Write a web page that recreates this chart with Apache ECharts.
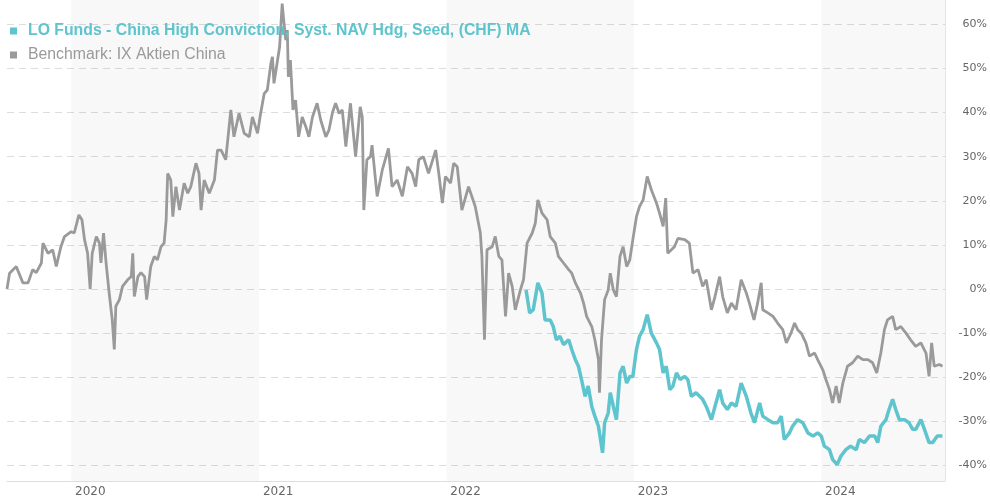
<!DOCTYPE html>
<html>
<head>
<meta charset="utf-8">
<script src="https://cdn.jsdelivr.net/npm/echarts@6/dist/echarts.min.js"></script>
<style>html,body{margin:0;padding:0;background:#fff}#c{width:990px;height:500px}</style>
</head>
<body>
<div id="c"></div>
<script>
const fundName = 'LO Funds - China High Conviction, Syst. NAV Hdg, Seed, (CHF) MA';
const benchName = 'Benchmark: IX Aktien China';
const shadedYears = [['2020-01-01','2021-01-01'],['2022-01-01','2023-01-01'],['2024-01-01','2024-08-29']];

const benchDates = ['2019-08-29','2019-09-03','2019-09-16','2019-09-29','2019-10-09','2019-10-18','2019-10-25','2019-11-04','2019-11-07','2019-11-17','2019-11-26','2019-12-03','2019-12-12','2019-12-19',
'2020-01-01','2020-01-07','2020-01-16','2020-01-22','2020-01-27','2020-02-02','2020-02-07','2020-02-11','2020-02-19','2020-02-25','2020-02-28','2020-03-04','2020-03-09','2020-03-15','2020-03-21','2020-03-25','2020-03-28','2020-04-04','2020-04-10','2020-04-20','2020-04-27','2020-04-30','2020-05-03','2020-05-10','2020-05-16','2020-05-23','2020-05-27','2020-06-04','2020-06-11','2020-06-17','2020-06-24','2020-06-30','2020-07-04','2020-07-07','2020-07-13','2020-07-17','2020-07-23','2020-07-30','2020-08-08','2020-08-15','2020-08-21','2020-08-31','2020-09-06','2020-09-10','2020-09-16','2020-09-26','2020-10-06','2020-10-12','2020-10-19','2020-10-28','2020-11-07','2020-11-13','2020-11-23','2020-12-03','2020-12-13','2020-12-19','2020-12-29',
'2021-01-04','2021-01-11','2021-01-17','2021-01-24','2021-01-27','2021-01-30','2021-02-06','2021-02-10','2021-02-15','2021-02-18','2021-02-22','2021-02-25','2021-02-27','2021-03-03','2021-03-08','2021-03-13','2021-03-19','2021-03-26','2021-04-02','2021-04-08','2021-04-15','2021-04-24','2021-05-01','2021-05-11','2021-05-17','2021-05-24','2021-05-30','2021-06-06','2021-06-12','2021-06-19','2021-06-28','2021-07-08','2021-07-17','2021-07-21','2021-07-24','2021-07-30','2021-08-06','2021-08-09','2021-08-19','2021-08-29','2021-09-10','2021-09-17','2021-09-27','2021-10-07','2021-10-17','2021-10-26','2021-11-02','2021-11-08','2021-11-17','2021-11-27','2021-12-11','2021-12-17','2021-12-24','2021-12-30',
'2022-01-09','2022-01-15','2022-01-22','2022-01-31','2022-02-13','2022-02-26','2022-03-08','2022-03-11','2022-03-16','2022-03-21','2022-03-31','2022-04-06','2022-04-13','2022-04-19','2022-04-26','2022-05-02','2022-05-09','2022-05-15','2022-05-25','2022-05-31','2022-06-07','2022-06-17','2022-06-23','2022-06-28','2022-07-06','2022-07-16','2022-07-22','2022-08-01','2022-08-07','2022-08-17','2022-08-27','2022-09-02','2022-09-09','2022-09-19','2022-09-25','2022-10-01','2022-10-11','2022-10-17','2022-10-24','2022-10-26','2022-10-30','2022-11-05','2022-11-12','2022-11-16','2022-11-22','2022-11-28','2022-12-05','2022-12-11','2022-12-18','2022-12-24','2022-12-30',
'2023-01-06','2023-01-12','2023-01-19','2023-01-27','2023-02-04','2023-02-14','2023-02-20','2023-02-27','2023-03-04','2023-03-08','2023-03-15','2023-03-21','2023-03-28','2023-04-10','2023-04-19','2023-04-26','2023-05-06','2023-05-15','2023-05-22','2023-06-01','2023-06-08','2023-06-17','2023-06-23','2023-07-02','2023-07-10','2023-07-19','2023-07-29','2023-08-08','2023-08-14','2023-08-23','2023-08-30','2023-09-06','2023-09-09','2023-09-19','2023-09-29','2023-10-08','2023-10-18','2023-10-25','2023-11-03','2023-11-10','2023-11-16','2023-11-23','2023-12-02','2023-12-09','2023-12-19','2023-12-25',
'2024-01-04','2024-01-10','2024-01-17','2024-01-23','2024-01-30','2024-02-05','2024-02-12','2024-02-21','2024-03-02','2024-03-12','2024-03-22','2024-04-01','2024-04-10','2024-04-18','2024-04-26','2024-05-03','2024-05-09','2024-05-19','2024-05-25','2024-06-04','2024-06-14','2024-06-23','2024-07-03','2024-07-13','2024-07-23','2024-07-29','2024-08-03','2024-08-08','2024-08-18','2024-08-24'];

const benchValues = [0,3.6,5.1,1.4,1.4,4.4,3.7,5.9,10.4,8.1,8.9,5.1,9.6,11.9,
13,12.7,16.8,15.7,11.2,8.1,0,8.1,11.9,10.4,5.9,12.7,5.9,-0.9,-7,-13.7,-3.9,-2.4,0.6,2.1,2.8,8.1,-1.7,2.8,3.7,2.8,-2.4,5.1,7.4,6.6,9.6,10.4,15.7,26.2,24.7,16.4,23.2,17.9,24,21.7,23.2,28.5,26.2,17.9,24.7,21.7,24.7,31.5,31.5,29.3,40.6,34.5,39.8,35.3,34.5,39,35.3,
39.8,44.3,45.1,51.1,52.6,46.6,51.9,54.9,64.7,60.9,56.4,58.7,48.1,51.9,40.6,42.8,34.5,39,36.8,34.5,39,42.1,38.3,34.5,36,40,42.1,39.8,40.6,32.3,42.1,30,41.3,39,17.9,29.3,30,32.6,21,27,31.9,23.2,24.7,21,27.7,26.2,23.2,29.3,30,26.2,31.5,26.2,19.5,25.5,
24,28.5,27.7,17.9,23.2,18.7,12.7,7.4,-11.5,8.9,9.6,11.9,7.4,6.6,-6.2,3.6,0.6,-4.7,-0.2,2.1,10.4,12.7,14.9,20.2,17.2,15.7,11.9,10.4,7.4,5.9,4.4,3.6,1.4,-0.9,-3.2,-6.2,-8.5,-11.5,-16,-23.5,-11.5,-2.4,-0.2,3.6,-0.2,-1.7,7.4,9.6,5.1,6.6,11.2,
16.4,18.7,20.2,25.5,22.5,19.5,17.2,14.2,20.6,8.1,8.9,9.6,11.5,11.2,10.4,3.6,4.4,0.6,2.1,-4.7,-1.7,2.8,-1.7,-5.4,-3.2,-4.7,2.1,-0.9,-3.2,-7,-3.2,1.4,-4.7,-5.4,-6.2,-7.7,-9.2,-12.2,-10,-7.7,-9.2,-10,-12.2,-15.2,-14.5,-16,
-18.3,-20.5,-22.8,-25.8,-22,-25.8,-21.3,-17.5,-16.7,-15.2,-16,-16,-16.7,-19,-14.5,-9.2,-7,-6.2,-9.2,-8.5,-10,-11.5,-13,-12.2,-14.5,-19.8,-12.2,-17.5,-17.1,-17.5];

const fundDates = ['2022-06-05','2022-06-12','2022-06-19','2022-06-28','2022-07-06','2022-07-12','2022-07-22','2022-07-28','2022-08-03','2022-08-10','2022-08-17','2022-08-27','2022-09-02','2022-09-09','2022-09-15','2022-09-21','2022-09-28','2022-10-04','2022-10-11','2022-10-17','2022-10-24','2022-10-28','2022-11-01','2022-11-05','2022-11-12','2022-11-16','2022-11-22','2022-11-28','2022-12-05','2022-12-11','2022-12-18','2022-12-24','2022-12-30',
'2023-01-06','2023-01-12','2023-01-19','2023-01-27','2023-02-04','2023-02-14','2023-02-20','2023-02-27','2023-03-05','2023-03-12','2023-03-18','2023-03-25','2023-04-01','2023-04-10','2023-04-16','2023-04-23','2023-05-02','2023-05-15','2023-05-22','2023-06-01','2023-06-08','2023-06-17','2023-06-23','2023-07-02','2023-07-10','2023-07-19','2023-07-29','2023-08-08','2023-08-17','2023-08-24','2023-09-03','2023-09-09','2023-09-19','2023-09-29','2023-10-08','2023-10-15','2023-10-21','2023-10-31','2023-11-06','2023-11-16','2023-11-26','2023-12-06','2023-12-16','2023-12-25',
'2024-01-01','2024-01-07','2024-01-17','2024-01-23','2024-02-01','2024-02-08','2024-02-18','2024-02-27','2024-03-09','2024-03-15','2024-03-25','2024-04-04','2024-04-14','2024-04-20','2024-04-26','2024-05-06','2024-05-12','2024-05-19','2024-05-25','2024-06-01','2024-06-11','2024-06-20','2024-06-27','2024-07-03','2024-07-13','2024-07-20','2024-07-29','2024-08-05','2024-08-14','2024-08-24'];

const fundValues = [-0.2,-5.4,-4.7,1.4,-0.9,-7,-7,-8.5,-11.5,-10.7,-12.6,-11.5,-13.7,-16,-17.5,-20.5,-24.3,-22,-26.6,-28.8,-31.1,-34.1,-37.1,-30.3,-28.1,-23.5,-26.6,-29.6,-19,-17.5,-21.3,-19.8,-19.8,
-13.7,-10.7,-9.2,-5.8,-10,-12.2,-13.7,-19,-17.5,-22.8,-22,-19,-20.5,-19.8,-20.5,-24.3,-23.5,-25,-26.6,-29.6,-26.6,-22.8,-25.8,-27.3,-25.8,-26.6,-21.3,-24.3,-28.1,-30.3,-25.8,-28.8,-29.6,-30.3,-30.3,-28.8,-34.1,-32.6,-31.1,-29.6,-30.3,-32.6,-33.3,-32.6,
-33.3,-35.6,-36.4,-38.6,-39.8,-37.9,-36.4,-35.6,-36.4,-34.1,-34.8,-33.3,-33.3,-34.8,-31.1,-29.6,-27.3,-25,-27.3,-29.6,-29.6,-30.3,-31.8,-31.8,-29.6,-31.8,-34.8,-34.8,-33.3,-33.3];

const fundColor = '#5ec4cd';
const benchColor = '#9a9a9a';

const chart = echarts.init(document.getElementById('c'), null, {renderer: 'canvas'});
const zip = (d, v) => d.map((x, i) => [x, v[i]]);

chart.setOption({
  animation: false,
  backgroundColor: '#fff',
  grid: {left: 7, right: 43, top: 0, bottom: 19, containLabel: false},
  legend: {
    orient: 'vertical', left: 10, top: 23, padding: 0, itemGap: 8,
    icon: 'rect', itemWidth: 7, itemHeight: 7,
    textStyle: {fontFamily: 'Liberation Sans, Arial, sans-serif', fontSize: 15.8, lineHeight: 16, padding: [0, 0, 0, 6]},
    selectedMode: false,
    data: [
      {name: fundName, textStyle: {color: fundColor, fontWeight: 'bold'}},
      {name: benchName, textStyle: {color: benchColor}}
    ]
  },
  xAxis: {
    type: 'time',
    min: '2019-08-29', max: '2024-08-29',
    minInterval: 365 * 24 * 3600 * 1000, maxInterval: 366 * 24 * 3600 * 1000,
    axisLine: {show: true, onZero: false, lineStyle: {color: '#dedede'}},
    axisTick: {show: false},
    splitLine: {show: false},
    axisLabel: {
      color: '#666', fontFamily: 'DejaVu Sans, Verdana, sans-serif', fontSize: 12, align: 'left', margin: 5,
      showMinLabel: false, showMaxLabel: false,
      formatter: function (v) { const d = new Date(v); return (d.getMonth() === 0 && d.getDate() === 1) ? ' ' + d.getFullYear() : ''; }
    }
  },
  yAxis: {
    type: 'value', position: 'right',
    min: -43.5, max: 65.5, splitNumber: 11,
    axisLine: {show: true, lineStyle: {color: '#e6e6e6'}},
    axisTick: {show: false},
    splitLine: {show: true, showMinLine: false, showMaxLine: false, lineStyle: {color: '#dddddd', type: [7, 5], width: 1}},
    axisLabel: {
      color: '#666', fontFamily: 'DejaVu Sans, Verdana, sans-serif', fontSize: 11, align: 'right', margin: 42,
      showMinLabel: false, showMaxLabel: false,
      formatter: '{value}%'
    }
  },
  series: [
    {
      name: benchName, type: 'line', data: zip(benchDates, benchValues),
      showSymbol: false, symbol: 'none', color: benchColor,
      lineStyle: {width: 2.8, color: benchColor}, z: 2,
      markArea: {
        silent: true,
        itemStyle: {color: 'rgba(0,0,0,0.028)'},
        data: shadedYears.map(r => [{xAxis: r[0]}, {xAxis: r[1]}])
      }
    },
    {
      name: fundName, type: 'line', data: zip(fundDates, fundValues),
      showSymbol: false, symbol: 'none', color: fundColor,
      lineStyle: {width: 3.5, color: fundColor}, z: 3
    }
  ]
});
</script>
</body>
</html>
